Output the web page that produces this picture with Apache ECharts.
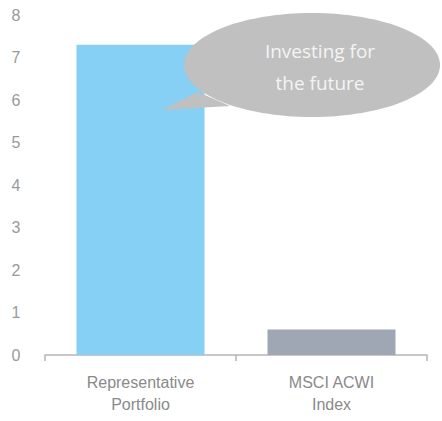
<!DOCTYPE html>
<html>
<head>
<meta charset="utf-8">
<script src="https://cdn.jsdelivr.net/npm/echarts@6/dist/echarts.min.js"></script>
<style>
  html, body { margin: 0; padding: 0; background: #fff; }
  #chart { width: 442px; height: 421px; }
</style>
</head>
<body>
<div id="chart"></div>
<script>
  // data
  const categories = ['Representative\nPortfolio', 'MSCI ACWI\nIndex'];
  const values = [7.3, 0.6];
  const barColors = ['#86cff5', '#9ea7b3'];
  const yTicks = [0, 1, 2, 3, 4, 5, 6, 7, 8];
  const bubbleText = 'Investing for\nthe future';

  const chart = echarts.init(document.getElementById('chart'), null, { renderer: 'svg' });

  chart.setOption({
    backgroundColor: '#fff',
    animation: false,
    textStyle: { fontFamily: 'Arial' },
    grid: { left: 45, right: 15, top: 15, bottom: 66 },
    xAxis: {
      type: 'category',
      data: categories,
      axisLine: { lineStyle: { color: '#b5b5b5', width: 1.5 } },
      axisTick: { show: true, length: 6, lineStyle: { color: '#b5b5b5', width: 1.5 } },
      axisLabel: { color: '#8a8a8a', fontSize: 16, lineHeight: 22, margin: 16 }
    },
    yAxis: {
      type: 'value',
      min: yTicks[0], max: yTicks[yTicks.length - 1], interval: 1,
      axisLine: { show: false },
      axisTick: { show: false },
      splitLine: { show: false },
      axisLabel: {
        color: '#9a9a9a', fontSize: 16, margin: 29, rotate: 0,
        align: 'center', padding: [0, 0, 10, 0],
        formatter: v => String(v)
      }
    },
    series: [{
      type: 'bar',
      barWidth: '67%',
      data: values.map((v, i) => ({ value: v, itemStyle: { color: barColors[i] } }))
    }],
    graphic: [
      {
        type: 'polygon', z: 100,
        shape: { points: [[198, 92], [162, 110], [230, 106]] },
        style: { fill: '#c0c0c0' }
      },
      {
        type: 'ellipse', z: 100,
        shape: { cx: 312, cy: 65, rx: 128, ry: 52 },
        style: { fill: '#c0c0c0' }
      },
      {
        type: 'text', z: 101,
        x: 320, y: 67,
        style: {
          text: bubbleText, fill: '#f4f4f4', fontSize: 19, lineHeight: 32,
          fontFamily: 'Open Sans',
          align: 'center', verticalAlign: 'middle'
        }
      }
    ]
  });
</script>
</body>
</html>
